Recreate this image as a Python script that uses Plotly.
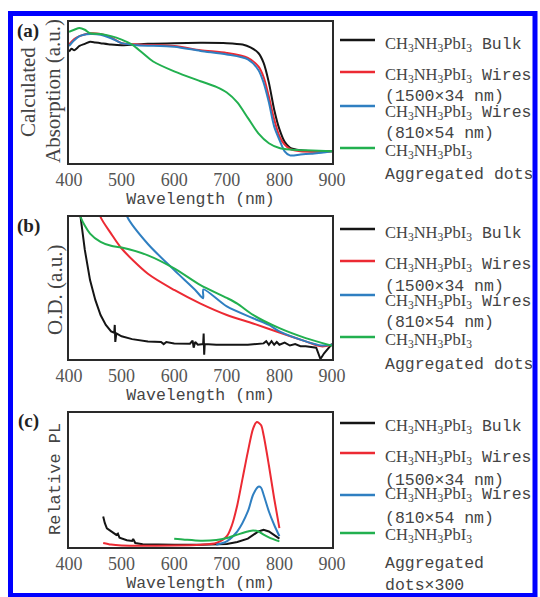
import plotly.graph_objects as go

W, H = 540, 597

# ---------------- data ----------------
# Panel (a): calculated absorption
a_x_black = [400, 405, 410, 420, 430, 440, 450, 460, 480, 500, 550, 600, 650, 700, 730, 745, 760, 770, 780, 790, 800, 810, 820, 840, 860, 900]
a_y_black = [0.79, 0.81, 0.80, 0.83, 0.845, 0.86, 0.855, 0.85, 0.84, 0.835, 0.845, 0.85, 0.852, 0.85, 0.84, 0.82, 0.78, 0.71, 0.57, 0.38, 0.24, 0.15, 0.11, 0.09, 0.083, 0.083]
a_x_red = [400, 410, 420, 440, 460, 480, 500, 530, 600, 650, 700, 740, 760, 770, 780, 790, 800, 810, 820, 840, 900]
a_y_red = [0.84, 0.88, 0.90, 0.92, 0.915, 0.89, 0.85, 0.84, 0.83, 0.80, 0.78, 0.745, 0.685, 0.61, 0.47, 0.31, 0.19, 0.13, 0.10, 0.083, 0.083]
a_x_blue = [400, 410, 420, 440, 460, 480, 500, 530, 600, 650, 700, 740, 760, 770, 780, 790, 800, 810, 820, 840, 860, 880, 900]
a_y_blue = [0.83, 0.87, 0.90, 0.915, 0.91, 0.885, 0.85, 0.835, 0.825, 0.795, 0.77, 0.735, 0.66, 0.57, 0.43, 0.26, 0.165, 0.083, 0.054, 0.06, 0.066, 0.072, 0.083]
a_x_green = [400, 410, 420, 430, 440, 460, 480, 500, 520, 540, 560, 600, 650, 680, 700, 720, 740, 760, 780, 800, 820, 850, 900]
a_y_green = [0.93, 0.945, 0.957, 0.945, 0.92, 0.915, 0.90, 0.875, 0.84, 0.78, 0.72, 0.65, 0.58, 0.54, 0.50, 0.43, 0.32, 0.21, 0.14, 0.106, 0.095, 0.09, 0.083]

# Panel (b): optical density
b_x_black = [418, 422, 430, 440, 450, 460, 470, 480, 486, 487, 488, 490, 500, 520, 550, 575, 580, 585, 600, 630, 635, 637, 640, 645, 655, 656, 657, 658, 680, 700, 740, 770, 775, 780, 785, 790, 795, 800, 810, 820, 830, 840, 850, 870, 878, 885, 895, 900]
b_y_black = [1.3, 1.0, 0.77, 0.556, 0.416, 0.31, 0.24, 0.194, 0.185, 0.24, 0.12, 0.18, 0.16, 0.14, 0.124, 0.12, 0.105, 0.12, 0.11, 0.108, 0.13, 0.08, 0.12, 0.10, 0.105, 0.18, 0.03, 0.105, 0.10, 0.10, 0.10, 0.11, 0.125, 0.10, 0.125, 0.10, 0.12, 0.10, 0.115, 0.095, 0.105, 0.09, 0.09, 0.08, 0.0, 0.04, 0.09, 0.107]
b_x_red = [455, 460, 480, 500, 550, 600, 650, 700, 750, 800, 850, 880, 900]
b_y_red = [1.1, 1.0, 0.883, 0.778, 0.60, 0.486, 0.39, 0.31, 0.25, 0.187, 0.124, 0.089, 0.10]
b_x_blue = [505, 511, 550, 600, 640, 655, 655.5, 700, 750, 780, 800, 850, 880, 900]
b_y_blue = [1.1, 1.0, 0.81, 0.626, 0.486, 0.428, 0.49, 0.37, 0.287, 0.24, 0.194, 0.124, 0.095, 0.10]
b_x_green = [418, 422, 440, 460, 480, 500, 550, 600, 650, 700, 720, 750, 800, 850, 900]
b_y_green = [1.08, 1.0, 0.883, 0.825, 0.797, 0.785, 0.73, 0.638, 0.52, 0.43, 0.39, 0.31, 0.217, 0.147, 0.093]

# Panel (c): relative PL
c_x_black = [465, 468, 472, 480, 490, 493, 496, 510, 520, 522, 526, 540, 560, 600, 650, 700, 720, 740, 760, 770, 780, 790, 800]
c_y_black = [0.228, 0.18, 0.14, 0.12, 0.09, 0.10, 0.07, 0.05, 0.045, 0.06, 0.03, 0.02, 0.017, 0.016, 0.016, 0.022, 0.037, 0.062, 0.116, 0.129, 0.116, 0.087, 0.062]
c_x_red = [465, 480, 500, 600, 650, 680, 700, 710, 720, 730, 740, 750, 757, 765, 770, 780, 790, 800]
c_y_red = [0.03, 0.018, 0.012, 0.012, 0.017, 0.03, 0.08, 0.166, 0.314, 0.512, 0.71, 0.884, 0.933, 0.91, 0.834, 0.61, 0.364, 0.141]
c_x_blue = [680, 700, 720, 740, 750, 760, 765, 770, 780, 790, 800]
c_y_blue = [0.017, 0.042, 0.116, 0.265, 0.39, 0.45, 0.443, 0.39, 0.265, 0.166, 0.08]
c_x_green = [600, 620, 650, 680, 700, 720, 740, 750, 760, 770, 780, 800]
c_y_green = [0.062, 0.055, 0.047, 0.052, 0.067, 0.092, 0.116, 0.124, 0.116, 0.092, 0.072, 0.042]

tick_vals = [400, 500, 600, 700, 800, 900]
tick_text = ["400", "500", "600", "700", "800", "900"]

CHEM = '<span style="font-family:Liberation Serif">CH<sub>3</sub>NH<sub>3</sub>PbI<sub>3</sub></span>'
legend_rows = [CHEM + " Bulk", CHEM + " Wires", "(1500×34 nm)", CHEM + " Wires", "(810×54 nm)", CHEM]

COL = {"black": "#151515", "red": "#ec2a33", "blue": "#2f7fc1", "green": "#22b04f"}

# ---------------- figure ----------------
fig = go.Figure()

def px(x):
    return x / W

def py(y):
    return 1 - y / H

panels = [
    ("", [(a_x_black, a_y_black, "black"), (a_x_red, a_y_red, "red"), (a_x_blue, a_y_blue, "blue"), (a_x_green, a_y_green, "green")], 22, 163),
    ("2", [(b_x_black, b_y_black, "black"), (b_x_red, b_y_red, "red"), (b_x_blue, b_y_blue, "blue"), (b_x_green, b_y_green, "green")], 217, 359),
    ("3", [(c_x_black, c_y_black, "black"), (c_x_red, c_y_red, "red"), (c_x_blue, c_y_blue, "blue"), (c_x_green, c_y_green, "green")], 413, 547),
]

for i, (suf, series, top, bot) in enumerate(panels):
    for xs, ys, c in series:
        smooth = not (c == "black" and suf in ("2", "3"))
        fig.add_trace(go.Scatter(
            x=xs, y=ys, mode="lines", xaxis="x" + suf, yaxis="y" + suf,
            line=dict(color=COL[c], width=2, shape="spline" if smooth else "linear", smoothing=0.8),
            showlegend=False, hoverinfo="skip"))
    xa = dict(domain=[px(69), px(332)], range=[400, 900], tickvals=tick_vals, ticktext=tick_text,
              showline=True, mirror=True, linecolor="#2a2a2a", linewidth=1.6, ticks="",
              showgrid=False, zeroline=False, automargin=False,
              tickfont=dict(family="Liberation Serif", size=18, color="#555"),
              title=dict(text="Wavelength (nm)", standoff=2,
                         font=dict(family="Liberation Mono", size=16.5, color="#444")),
              anchor="y" + suf)
    ya = dict(domain=[py(bot), py(top)], range=[0, 1], showticklabels=False, ticks="",
              showline=True, mirror=True, linecolor="#2a2a2a", linewidth=1.6, automargin=False,
              showgrid=False, zeroline=False, anchor="x" + suf)
    fig.layout["xaxis" + suf] = xa
    fig.layout["yaxis" + suf] = ya

annotations = []
shapes = []

def note(text, x, y, size, family, color="#444", angle=0):
    annotations.append(dict(text=text, x=px(x), y=py(y), xref="paper", yref="paper", showarrow=False,
                            xanchor="center", yanchor="middle", textangle=angle,
                            font=dict(family=family, size=size, color=color)))

# panel labels
for lab, yc in [("(a)", 31), ("(b)", 226), ("(c)", 421)]:
    note("<b>%s</b>" % lab, 28, yc, 19, "Liberation Serif", "#222")

# y titles
note("Calculated", 28, 92, 21, "Liberation Serif", angle=-90)
note("Absorption (a.u.)", 53, 91, 21, "Liberation Serif", angle=-90)
note("O.D. (a.u.)", 55, 290, 21, "Liberation Serif", angle=-90)
note("Relative PL", 55, 479, 17, "Liberation Mono", angle=-90)

# legends: line y positions (black, red, blue, green), text rows, extra rows
legend_specs = [
    ([40, 72, 106, 148], [44, 75, 97, 112, 133, 151], ["Aggregated dots"], [175]),
    ([229, 261, 295, 337], [233, 264, 286, 301, 322, 340], ["Aggregated dots"], [364]),
    ([423, 453, 495, 533], [426, 457, 480, 494, 518, 535], ["Aggregated", "dots×300"], [563, 585]),
]
for lines_y, rows_y, extra, extra_y in legend_specs:
    for c, ly in zip(["black", "red", "blue", "green"], lines_y):
        shapes.append(dict(type="line", xref="paper", yref="paper", x0=px(340), x1=px(375),
                           y0=py(ly), y1=py(ly), line=dict(color=COL[c], width=2.5)))
    for txt, ry in list(zip(legend_rows, rows_y)) + list(zip(extra, extra_y)):
        annotations.append(dict(text=txt, x=px(383), y=py(ry), xref="paper", yref="paper",
                                xanchor="left", yanchor="middle", showarrow=False,
                                font=dict(family="Liberation Mono", size=16.5, color="#444")))

# blue frame
shapes.append(dict(type="rect", xref="paper", yref="paper", x0=px(10.5), x1=px(535), y0=py(595.5), y1=py(13.5),
                   line=dict(color="#0000ff", width=5), layer="above"))

fig.update_layout(width=W, height=H, margin=dict(l=0, r=0, t=0, b=0, autoexpand=False),
                  paper_bgcolor="white", plot_bgcolor="white",
                  annotations=annotations, shapes=shapes, showlegend=False)

fig.write_html("out.html", config={"displayModeBar": False},
               post_script="document.body.style.margin='0';document.body.style.overflow='hidden';")
